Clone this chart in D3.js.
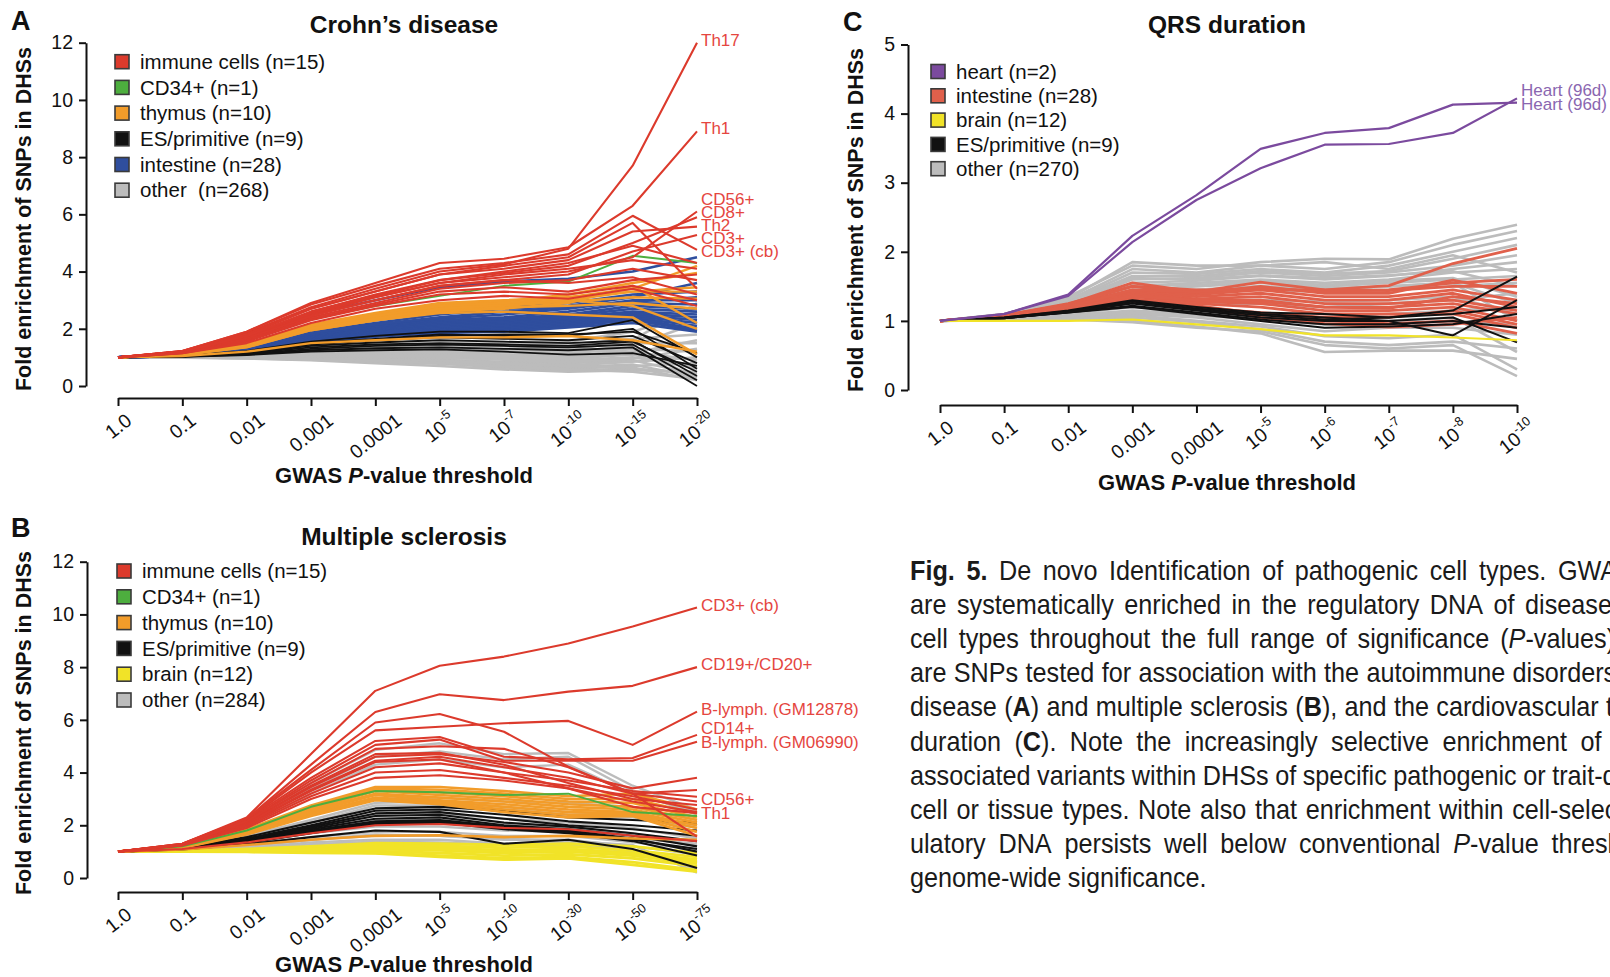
<!DOCTYPE html>
<html>
<head>
<meta charset="utf-8">
<script src="https://cdn.jsdelivr.net/npm/d3@7"></script>
<style>
  body { margin: 0; background: #fff; }
  svg { display: block; }
  text { font-family: "Liberation Sans", Arial, Helvetica, sans-serif; }
  .pre { white-space: pre; }
</style>
</head>
<body>
<svg id="fig" width="1610" height="977"></svg>
<script>
// ---------------- data ----------------
// GWAS P-value thresholds (x categories) per trait
const crohnThresholds = ["1.0", "0.1", "0.01", "0.001", "0.0001", "10^-5", "10^-7", "10^-10", "10^-15", "10^-20"];
const msThresholds    = ["1.0", "0.1", "0.01", "0.001", "0.0001", "10^-5", "10^-10", "10^-30", "10^-50", "10^-75"];
const qrsThresholds   = ["1.0", "0.1", "0.01", "0.001", "0.0001", "10^-5", "10^-6", "10^-7", "10^-8", "10^-10"];

// A: Crohn's disease — fold enrichment of SNPs in DHSs per cell type
const crohnLegend = ["immune cells (n=15)", "CD34+ (n=1)", "thymus (n=10)", "ES/primitive (n=9)", "intestine (n=28)", "other  (n=268)"];
const crohnImmuneLabels = ["Th17", "Th1", "CD56+", "CD8+", "Th2", "CD3+", "CD3+ (cb)"];
const crohnImmune = [
  [1, 1.22, 1.85, 2.75, 3.4, 4.0, 4.25, 4.8, 7.7, 12.0],
  [1, 1.22, 1.9, 2.9, 3.6, 4.3, 4.45, 4.85, 6.3, 8.9],
  [1, 1.2, 1.7, 2.5, 3.1, 3.6, 3.8, 4.0, 4.5, 6.1],
  [1, 1.2, 1.75, 2.6, 3.2, 3.7, 3.95, 4.2, 5.0, 5.9],
  [1, 1.2, 1.8, 2.7, 3.3, 3.9, 4.1, 4.4, 5.4, 5.57],
  [1, 1.18, 1.7, 2.5, 3.0, 3.5, 3.7, 3.9, 4.7, 5.28],
  [1, 1.22, 1.9, 2.85, 3.5, 4.1, 4.3, 4.6, 5.95, 4.76],
  [1, 1.2, 1.8, 2.7, 3.3, 3.9, 4.2, 4.5, 5.7, 3.4],
  [1, 1.18, 1.7, 2.55, 3.1, 3.6, 3.9, 4.1, 4.4, 4.1],
  [1, 1.16, 1.6, 2.4, 2.9, 3.4, 3.6, 3.7, 4.1, 3.7],
  [1, 1.18, 1.65, 2.45, 3.0, 3.5, 3.7, 3.6, 3.8, 3.2],
  [1, 1.16, 1.6, 2.35, 2.85, 3.3, 3.45, 3.3, 3.7, 3.9],
  [1, 1.15, 1.55, 2.3, 2.8, 3.2, 3.3, 3.2, 3.5, 3.0],
  [1, 1.2, 1.75, 2.6, 3.15, 3.7, 4.0, 4.3, 4.9, 4.3],
  [1, 1.15, 1.5, 2.2, 2.7, 3.0, 3.15, 3.05, 3.4, 2.8]
];
const crohnCD34 = [
  [1, 1.15, 1.6, 2.35, 2.8, 3.15, 3.5, 3.65, 4.55, 4.3]
];
const crohnThymus = [
  [1, 1.12, 1.45, 2.15, 2.55, 2.9, 3.0, 3.1, 3.4, 4.2],
  [1, 1.12, 1.45, 2.1, 2.5, 2.85, 2.95, 3.2, 3.6, 3.95],
  [1, 1.1, 1.4, 2.05, 2.45, 2.75, 2.9, 3.0, 3.3, 3.45],
  [1, 1.1, 1.4, 2.0, 2.4, 2.7, 2.8, 2.95, 3.1, 3.05],
  [1, 1.1, 1.38, 2.0, 2.35, 2.65, 2.75, 2.8, 2.9, 2.7],
  [1, 1.1, 1.36, 1.95, 2.3, 2.6, 2.7, 2.9, 3.5, 2.2],
  [1, 1.1, 1.35, 1.95, 2.3, 2.55, 2.6, 2.5, 2.4, 1.1],
  [1, 1.1, 1.38, 2.0, 2.35, 2.7, 2.85, 3.0, 2.8, 2.0],
  [1, 1.1, 1.42, 2.1, 2.45, 2.8, 2.9, 3.1, 3.3, 3.3],
  [1, 1.05, 1.2, 1.5, 1.6, 1.7, 1.7, 1.75, 1.6, 1.2]
];
const crohnES = [
  [1, 1.06, 1.22, 1.55, 1.75, 1.9, 1.9, 1.85, 2.3, 1.0],
  [1, 1.05, 1.2, 1.5, 1.65, 1.8, 1.75, 1.75, 2.0, 0.6],
  [1, 1.05, 1.18, 1.45, 1.6, 1.7, 1.65, 1.6, 1.75, 0.8],
  [1, 1.04, 1.15, 1.4, 1.52, 1.6, 1.55, 1.5, 1.6, 0.35],
  [1, 1.04, 1.14, 1.35, 1.45, 1.5, 1.45, 1.4, 1.55, 0.5],
  [1, 1.03, 1.12, 1.3, 1.4, 1.45, 1.4, 1.35, 1.45, 0.2],
  [1, 1.03, 1.1, 1.25, 1.32, 1.35, 1.3, 1.25, 1.35, 0.0],
  [1, 1.02, 1.08, 1.2, 1.25, 1.28, 1.2, 1.1, 1.15, 0.7],
  [1, 1.05, 1.2, 1.48, 1.62, 1.75, 1.8, 1.8, 1.9, 1.15]
];
const crohnIntestine = [
  [1, 1.15, 1.6, 2.5, 3.0, 3.45, 3.65, 3.75, 4.0, 4.5],
  [1, 1.1, 1.4, 1.95, 2.3, 2.6, 2.75, 2.9, 3.2, 3.3],
  [1, 1.08, 1.32, 1.8, 2.1, 2.35, 2.5, 2.7, 3.0, 3.0],
  [1, 1.08, 1.3, 1.78, 2.05, 2.3, 2.4, 2.6, 2.9, 2.85],
  [1, 1.07, 1.28, 1.72, 2.0, 2.25, 2.35, 2.5, 2.8, 2.7],
  [1, 1.07, 1.27, 1.7, 1.98, 2.2, 2.3, 2.45, 2.7, 2.6],
  [1, 1.07, 1.26, 1.68, 1.95, 2.15, 2.25, 2.4, 2.6, 2.5],
  [1, 1.06, 1.25, 1.65, 1.9, 2.1, 2.2, 2.35, 2.55, 2.4],
  [1, 1.06, 1.24, 1.62, 1.88, 2.05, 2.15, 2.3, 2.5, 2.3],
  [1, 1.06, 1.23, 1.6, 1.85, 2.0, 2.1, 2.25, 2.45, 2.2],
  [1, 1.05, 1.22, 1.58, 1.82, 1.95, 2.05, 2.2, 2.4, 2.1],
  [1, 1.05, 1.2, 1.55, 1.8, 1.9, 2.0, 2.15, 2.35, 2.0],
  [1, 1.05, 1.2, 1.52, 1.75, 1.88, 1.95, 2.1, 2.3, 1.95],
  [1, 1.05, 1.18, 1.5, 1.72, 1.85, 1.9, 2.05, 2.2, 1.9],
  [1, 1.1, 1.38, 1.9, 2.2, 2.5, 2.7, 2.8, 3.1, 3.6],
  [1, 1.09, 1.35, 1.85, 2.15, 2.4, 2.6, 2.75, 2.95, 3.1]
];
const crohnOther = [
  [1, 1.02, 1.05, 1.1, 1.12, 1.15, 1.1, 1.05, 1.2, 0.9],
  [1, 1.01, 1.03, 1.05, 1.05, 1.05, 1.0, 0.95, 1.1, 0.6],
  [1, 1.0, 1.0, 0.98, 0.95, 0.92, 0.85, 0.8, 0.9, 0.4],
  [1, 1.0, 0.98, 0.95, 0.9, 0.85, 0.75, 0.65, 0.75, 0.3],
  [1, 1.0, 0.97, 0.92, 0.85, 0.78, 0.65, 0.55, 0.6, 0.45],
  [1, 0.99, 0.96, 0.9, 0.8, 0.7, 0.58, 0.5, 0.55, 0.5],
  [1, 1.0, 1.0, 1.0, 1.0, 0.98, 0.95, 0.9, 1.0, 0.7],
  [1, 1.01, 1.04, 1.08, 1.1, 1.1, 1.05, 1.0, 1.3, 1.2],
  [1, 1.02, 1.06, 1.15, 1.2, 1.25, 1.3, 1.35, 1.5, 1.5],
  [1, 1.02, 1.08, 1.2, 1.28, 1.35, 1.4, 1.45, 1.65, 1.8],
  [1, 1.0, 0.99, 0.97, 0.93, 0.88, 0.8, 0.72, 0.85, 1.0],
  [1, 1.0, 0.98, 0.94, 0.88, 0.82, 0.72, 0.6, 0.7, 0.8],
  [1, 1.01, 1.02, 1.03, 1.02, 1.0, 0.92, 0.85, 0.95, 1.3],
  [1, 1.02, 1.07, 1.18, 1.25, 1.3, 1.25, 1.2, 1.4, 2.2],
  [1, 1.03, 1.1, 1.25, 1.35, 1.45, 1.5, 1.55, 1.9, 2.6],
  [1, 1.01, 1.03, 1.06, 1.06, 1.05, 1.0, 0.98, 1.15, 1.6],
  [1, 1.0, 0.99, 0.96, 0.92, 0.87, 0.78, 0.7, 0.65, 0.2],
  [1, 1.02, 1.05, 1.12, 1.15, 1.2, 1.18, 1.15, 1.3, 0.3],
  [1, 1.0, 0.98, 0.93, 0.87, 0.8, 0.68, 0.58, 0.5, 0.25],
  [1, 1.01, 1.04, 1.1, 1.15, 1.2, 1.22, 1.25, 1.6, 2.9]
];

// B: Multiple sclerosis
const msLegend = ["immune cells (n=15)", "CD34+ (n=1)", "thymus (n=10)", "ES/primitive (n=9)", "brain (n=12)", "other (n=284)"];
const msImmuneLabels = ["CD3+ (cb)", "CD19+/CD20+", "B-lymph. (GM12878)", "CD14+", "B-lymph. (GM06990)", "", "CD56+", "Th1"];
const msImmune = [
  [1, 1.3, 2.3, 4.7, 7.1, 8.05, 8.4, 8.9, 9.54, 10.26],
  [1, 1.3, 2.25, 4.3, 6.3, 6.97, 6.75, 7.07, 7.29, 8.0],
  [1, 1.28, 2.2, 4.0, 5.6, 5.74, 5.87, 5.96, 5.05, 6.31],
  [1, 1.28, 2.2, 3.8, 5.2, 5.35, 4.6, 4.5, 4.55, 5.43],
  [1, 1.27, 2.15, 3.7, 5.05, 5.25, 4.45, 4.45, 4.45, 5.17],
  [1, 1.3, 2.25, 4.1, 5.9, 6.22, 5.55, 4.22, 3.2, 1.57],
  [1, 1.26, 2.1, 3.5, 4.7, 4.75, 4.3, 3.6, 3.0, 2.77],
  [1, 1.25, 2.05, 3.3, 4.4, 4.5, 4.0, 3.4, 2.7, 2.46],
  [1, 1.26, 2.1, 3.45, 4.6, 4.7, 4.4, 4.0, 3.4, 3.8],
  [1, 1.25, 2.05, 3.35, 4.45, 4.6, 4.2, 3.8, 3.2, 3.34],
  [1, 1.24, 2.0, 3.2, 4.2, 4.35, 4.0, 3.7, 3.3, 3.08],
  [1, 1.24, 1.95, 3.1, 4.0, 4.1, 3.8, 3.5, 3.1, 2.6],
  [1, 1.23, 1.9, 3.0, 3.8, 3.9, 3.7, 3.4, 2.9, 2.5],
  [1, 1.27, 2.15, 3.6, 4.9, 5.0, 4.9, 4.2, 3.2, 2.9],
  [1, 1.1, 1.35, 1.7, 2.0, 2.05, 1.9, 1.85, 1.6, 1.4]
];
const msCD34 = [
  [1, 1.2, 1.8, 2.7, 3.3, 3.25, 3.15, 3.2, 2.5, 2.35]
];
const msThymus = [
  [1, 1.2, 1.85, 2.75, 3.45, 3.45, 3.3, 3.1, 3.2, 2.6],
  [1, 1.2, 1.82, 2.7, 3.4, 3.35, 3.2, 3.0, 3.0, 2.45],
  [1, 1.19, 1.8, 2.65, 3.35, 3.25, 3.1, 2.9, 2.85, 2.3],
  [1, 1.18, 1.78, 2.6, 3.3, 3.15, 3.0, 2.8, 2.7, 2.2],
  [1, 1.18, 1.75, 2.55, 3.2, 3.05, 2.9, 2.7, 2.6, 2.1],
  [1, 1.17, 1.72, 2.5, 3.15, 2.95, 2.8, 2.6, 2.5, 2.0],
  [1, 1.17, 1.7, 2.45, 3.05, 2.9, 2.7, 2.5, 2.45, 1.9],
  [1, 1.16, 1.68, 2.4, 3.0, 2.85, 2.6, 2.4, 2.4, 1.75],
  [1, 1.15, 1.65, 2.35, 2.95, 2.8, 2.5, 2.3, 2.35, 1.6],
  [1, 1.08, 1.25, 1.45, 1.6, 1.62, 1.55, 1.6, 1.5, 1.45]
];
const msES = [
  [1, 1.15, 1.55, 2.1, 2.64, 2.7, 2.55, 2.3, 2.2, 2.1],
  [1, 1.14, 1.5, 2.0, 2.55, 2.6, 2.4, 2.15, 2.0, 1.8],
  [1, 1.13, 1.45, 1.95, 2.45, 2.5, 2.25, 2.0, 1.85, 1.6],
  [1, 1.12, 1.42, 1.9, 2.35, 2.4, 2.1, 1.95, 1.7, 1.4],
  [1, 1.11, 1.4, 1.85, 2.25, 2.3, 2.0, 1.85, 1.6, 1.2],
  [1, 1.1, 1.37, 1.8, 2.15, 2.2, 1.95, 1.8, 1.5, 1.0],
  [1, 1.09, 1.33, 1.7, 2.05, 2.1, 1.85, 1.7, 1.4, 0.85],
  [1, 1.08, 1.28, 1.55, 1.8, 1.75, 1.3, 1.45, 1.1, 0.38],
  [1, 1.1, 1.35, 1.75, 2.1, 2.15, 1.9, 1.75, 1.45, 1.1]
];
const msBrain = [
  [1, 1.03, 1.1, 1.2, 1.32, 1.3, 1.25, 1.3, 1.2, 0.95],
  [1, 1.02, 1.07, 1.15, 1.25, 1.22, 1.15, 1.2, 1.05, 0.8],
  [1, 1.02, 1.05, 1.1, 1.18, 1.15, 1.05, 1.1, 0.95, 0.7],
  [1, 1.01, 1.03, 1.06, 1.1, 1.05, 0.95, 1.0, 0.85, 0.55],
  [1, 1.01, 1.02, 1.02, 1.02, 0.95, 0.85, 0.9, 0.75, 0.45],
  [1, 1.0, 1.0, 0.99, 0.96, 0.85, 0.75, 0.8, 0.6, 0.3],
  [1, 1.0, 0.99, 0.96, 0.94, 0.8, 0.7, 0.75, 0.5, 0.24],
  [1, 1.01, 1.04, 1.08, 1.14, 1.1, 1.0, 1.05, 0.9, 0.62]
];
const msOther = [
  [1, 1.26, 2.1, 3.6, 4.86, 5.11, 4.7, 4.74, 3.5, 2.58],
  [1, 1.24, 2.0, 3.4, 4.6, 4.8, 4.5, 4.6, 3.3, 2.4],
  [1, 1.15, 1.6, 2.2, 2.85, 2.9, 2.7, 2.5, 2.4, 2.0],
  [1, 1.14, 1.55, 2.1, 2.75, 2.75, 2.6, 2.4, 2.3, 1.9],
  [1, 1.1, 1.35, 1.7, 1.95, 1.95, 1.8, 1.75, 1.5, 1.3],
  [1, 1.08, 1.28, 1.55, 1.75, 1.75, 1.6, 1.6, 1.35, 1.1],
  [1, 1.07, 1.22, 1.45, 1.6, 1.6, 1.45, 1.45, 1.2, 0.9],
  [1, 1.05, 1.15, 1.35, 1.45, 1.45, 1.3, 1.35, 1.05, 0.6],
  [1, 1.04, 1.12, 1.28, 1.38, 1.35, 1.25, 1.25, 1.0, 0.35],
  [1, 1.12, 1.45, 1.95, 2.4, 2.45, 2.25, 2.1, 1.9, 1.5],
  [1, 1.16, 1.65, 2.4, 3.0, 3.05, 2.9, 2.85, 2.7, 2.2],
  [1, 1.1, 1.4, 1.85, 2.2, 2.2, 2.0, 1.9, 1.7, 1.2],
  [1, 1.06, 1.2, 1.45, 1.65, 1.6, 1.5, 1.4, 1.25, 0.2],
  [1, 1.22, 1.95, 3.2, 4.3, 4.5, 4.2, 4.3, 3.2, 2.5]
];

// C: QRS duration
const qrsLegend = ["heart (n=2)", "intestine (n=28)", "brain (n=12)", "ES/primitive (n=9)", "other (n=270)"];
const qrsHeartLabels = ["Heart (96d)", "Heart (96d)"];
const qrsHeart = [
  [1, 1.1, 1.38, 2.23, 2.82, 3.49, 3.72, 3.79, 4.13, 4.16],
  [1, 1.1, 1.36, 2.14, 2.75, 3.21, 3.55, 3.56, 3.72, 4.22]
];
const qrsIntestine = [
  [1, 1.08, 1.25, 1.5, 1.45, 1.45, 1.45, 1.51, 1.83, 2.05],
  [1, 1.08, 1.24, 1.55, 1.42, 1.56, 1.45, 1.44, 1.5, 1.5],
  [1, 1.08, 1.23, 1.5, 1.4, 1.5, 1.4, 1.4, 1.59, 1.4],
  [1, 1.07, 1.22, 1.45, 1.38, 1.45, 1.35, 1.35, 1.45, 1.3],
  [1, 1.07, 1.21, 1.42, 1.35, 1.4, 1.3, 1.3, 1.4, 1.2],
  [1, 1.07, 1.2, 1.4, 1.32, 1.35, 1.25, 1.25, 1.3, 1.15],
  [1, 1.06, 1.19, 1.38, 1.3, 1.3, 1.2, 1.2, 1.25, 1.1],
  [1, 1.06, 1.18, 1.35, 1.28, 1.25, 1.15, 1.15, 1.2, 1.0],
  [1, 1.06, 1.17, 1.32, 1.25, 1.2, 1.1, 1.1, 1.1, 0.9],
  [1, 1.05, 1.16, 1.3, 1.22, 1.1, 1.0, 0.96, 1.0, 0.82],
  [1, 1.05, 1.15, 1.28, 1.2, 1.05, 0.96, 0.91, 0.95, 1.05],
  [1, 1.07, 1.2, 1.45, 1.42, 1.48, 1.42, 1.45, 1.55, 1.6],
  [1, 1.06, 1.18, 1.36, 1.3, 1.28, 1.2, 1.18, 1.35, 1.25],
  [1, 1.05, 1.15, 1.27, 1.2, 1.12, 1.05, 1.05, 1.15, 0.95]
];
const qrsBrain = [
  [1, 1.0, 1.0, 1.02, 0.95, 0.88, 0.79, 0.79, 0.76, 0.72]
];
const qrsES = [
  [1, 1.05, 1.15, 1.3, 1.2, 1.12, 1.1, 1.05, 1.15, 1.64],
  [1, 1.05, 1.14, 1.28, 1.18, 1.1, 1.05, 1.0, 0.79, 1.3],
  [1, 1.04, 1.13, 1.25, 1.15, 1.05, 1.0, 1.0, 1.05, 0.69],
  [1, 1.04, 1.12, 1.22, 1.12, 1.02, 0.95, 0.95, 1.0, 0.9],
  [1, 1.04, 1.12, 1.2, 1.1, 1.0, 0.9, 0.92, 0.95, 1.1],
  [1, 1.04, 1.13, 1.26, 1.16, 1.08, 1.02, 1.05, 1.1, 1.2]
];
const qrsOther = [
  [1, 1.1, 1.35, 1.8, 1.75, 1.85, 1.9, 1.89, 2.19, 2.39],
  [1, 1.09, 1.3, 1.75, 1.7, 1.8, 1.75, 1.85, 2.1, 2.3],
  [1, 1.09, 1.28, 1.7, 1.68, 1.75, 1.7, 1.8, 2.0, 2.2],
  [1, 1.08, 1.27, 1.65, 1.65, 1.72, 1.68, 1.72, 1.9, 2.1],
  [1, 1.08, 1.25, 1.6, 1.62, 1.7, 1.65, 1.7, 1.8, 1.95],
  [1, 1.07, 1.22, 1.55, 1.58, 1.65, 1.6, 1.65, 1.75, 1.85],
  [1, 1.07, 1.2, 1.5, 1.55, 1.6, 1.55, 1.6, 1.7, 1.75],
  [1, 1.06, 1.18, 1.45, 1.5, 1.55, 1.5, 1.55, 1.6, 1.65],
  [1, 1.05, 1.15, 1.35, 1.4, 1.45, 1.42, 1.45, 1.5, 1.55],
  [1, 1.04, 1.1, 1.2, 1.15, 1.1, 1.05, 1.1, 1.15, 1.2],
  [1, 1.03, 1.06, 1.1, 1.05, 0.95, 0.85, 0.9, 0.9, 0.8],
  [1, 1.02, 1.04, 1.05, 0.98, 0.88, 0.7, 0.65, 0.7, 0.6],
  [1, 1.02, 1.03, 1.0, 0.92, 0.82, 0.55, 0.57, 0.57, 0.45],
  [1, 1.03, 1.05, 1.08, 1.0, 0.92, 0.78, 0.75, 0.8, 0.3],
  [1, 1.01, 1.02, 0.98, 0.9, 0.85, 0.65, 0.6, 0.65, 0.2],
  [1, 1.05, 1.12, 1.3, 1.25, 1.25, 1.2, 1.25, 1.3, 1.4],
  [1, 1.06, 1.16, 1.4, 1.45, 1.5, 1.45, 1.5, 1.55, 1.0],
  [1, 1.04, 1.08, 1.15, 1.1, 1.05, 1.0, 1.0, 1.05, 0.55],
  [1, 1.1, 1.32, 1.85, 1.8, 1.8, 1.85, 1.75, 1.95, 1.7],
  [1, 1.03, 1.07, 1.12, 1.08, 1.02, 0.95, 0.95, 1.0, 0.95],
  [1, 1.08, 1.26, 1.62, 1.6, 1.66, 1.62, 1.66, 1.72, 1.5],
  [1, 1.07, 1.21, 1.52, 1.52, 1.58, 1.52, 1.58, 1.62, 1.35],
  [1, 1.06, 1.17, 1.42, 1.45, 1.5, 1.47, 1.5, 1.55, 1.25],
  [1, 1.05, 1.13, 1.3, 1.3, 1.3, 1.28, 1.3, 1.35, 1.1]
];

// Figure legend text (* = bold, _ = italic)
const captionLines = [
  "*Fig. 5.* De novo Identification of pathogenic cell types. GWAS SNPs",
  "are systematically enriched in the regulatory DNA of disease-relevant",
  "cell types throughout the full range of significance (_P_-values). Shown",
  "are SNPs tested for association with the autoimmune disorders Crohn’s",
  "disease (*A*) and multiple sclerosis (*B*), and the cardiovascular trait QRS",
  "duration (*C*). Note the increasingly selective enrichment of disease-",
  "associated variants within DHSs of specific pathogenic or trait-determining",
  "cell or tissue types. Note also that enrichment within cell-selective reg-",
  "ulatory DNA persists well below conventional _P_-value thresholds for",
  "genome-wide significance."
];

// ---------------- styling ----------------
const COL = {
  immune: "#dc3a2c", cd34: "#4dae3e", thymus: "#f29c2a", es: "#111111",
  intestine: "#2f4e9e", other: "#bcbcbc", brain: "#f1e328", heart: "#7b4a9e",
  gut: "#e0604b", labelRed: "#e5463f", labelPurple: "#8a66b0"
};

const svg = d3.select("#fig");
svg.append("rect").attr("width", 1610).attr("height", 977).attr("fill", "#fff");

const ANG = 38;
const RAD = ANG * Math.PI / 180;

function drawPanel(p) {
  const g = svg.append("g");
  const x = d3.scalePoint().domain(d3.range(p.ticks.length)).range([p.x0, p.x1]);
  const y = d3.scaleLinear().domain([0, p.yMax]).range([p.yZero, p.yTop]);

  // panel letter and title
  g.append("text").attr("x", p.letterX).attr("y", p.letterY).attr("font-size", 27)
    .attr("font-weight", "bold").attr("fill", "#111").text(p.letter);
  g.append("text").attr("x", p.titleX).attr("y", p.titleY).attr("font-size", 24.5)
    .attr("font-weight", "bold").attr("text-anchor", "middle").attr("fill", "#111").text(p.title);

  // y axis
  const ya = g.append("g").attr("transform", `translate(${p.axisX},0)`)
    .call(d3.axisLeft(y).tickValues(p.yTicks).tickSize(7).tickSizeOuter(0).tickPadding(6).tickFormat(d3.format("d")));
  ya.attr("font-family", null).attr("font-size", 19.5).attr("color", "#111");
  ya.selectAll("path, line").attr("stroke-width", 2);

  // y title
  g.append("text").attr("transform", `translate(${p.yTitleX},${p.yTitleY}) rotate(-90)`)
    .attr("text-anchor", "middle").attr("dy", "0.35em").attr("font-size", 21.5)
    .attr("font-weight", "bold").attr("fill", "#111").text("Fold enrichment of SNPs in DHSs");

  // x axis
  const xa = g.append("g").attr("transform", `translate(0,${p.axisY})`)
    .call(d3.axisBottom(x).tickSize(8).tickSizeOuter(0).tickFormat(""));
  xa.attr("color", "#111");
  xa.selectAll("path, line").attr("stroke-width", 2);
  xa.selectAll(".tick text").remove();

  // rotated threshold labels, centred on their ticks
  const fs = 19.5;
  p.ticks.forEach((lab, i) => {
    const t = g.append("text").attr("text-anchor", "middle").attr("font-size", fs).attr("fill", "#111");
    const parts = lab.split("^");
    t.append("tspan").attr("dy", "0.36em").text(parts[0]);
    if (parts[1]) t.append("tspan").attr("font-size", fs * 0.66).attr("dy", -fs * 0.48).text(parts[1]);
    const w = t.node().getComputedTextLength();
    const h = fs * 0.72;
    const cy = p.axisY + 14 + (w / 2) * Math.sin(RAD) + (h / 2) * Math.cos(RAD);
    t.attr("transform", `translate(${x(i)},${cy}) rotate(${-ANG})`);
  });

  // x title
  const xt = g.append("text").attr("x", p.xTitleX).attr("y", p.xTitleY).attr("font-size", 22)
    .attr("font-weight", "bold").attr("text-anchor", "middle").attr("fill", "#111");
  xt.append("tspan").text("GWAS ");
  xt.append("tspan").attr("font-style", "italic").text("P");
  xt.append("tspan").text("-value threshold");

  // legend
  const lg = g.append("g");
  p.legend.forEach((lab, i) => {
    const cy = p.legY + i * p.legStep;
    lg.append("rect").attr("x", p.legX).attr("y", cy - 7).attr("width", 14).attr("height", 14)
      .attr("fill", p.legColors[i]).attr("stroke", "#3a3a3a").attr("stroke-width", 1.6);
    lg.append("text").attr("class", "pre").attr("x", p.legX + 25).attr("y", cy).attr("dy", "0.35em")
      .attr("font-size", 20.5).attr("fill", "#111").text(lab);
  });

  // lines
  const line = d3.line().x((d, i) => x(i)).y(d => y(d));
  p.groups.forEach(grp => {
    g.append("g").attr("fill", "none").attr("stroke", grp.color).attr("stroke-width", grp.width)
      .attr("stroke-linejoin", "round").attr("stroke-linecap", "butt")
      .selectAll("path").data(grp.lines).join("path").attr("d", d => line(d));
  });

  // end labels, spread so they do not collide
  const ends = p.labels.map(([lab, v]) => ({ lab, y: y(v[v.length - 1]) })).filter(d => d.lab);
  ends.sort((a, b) => a.y - b.y);
  ends.forEach(d => d.ly = d.y);
  for (let k = 0; k < 200; k++) {
    for (let j = 1; j < ends.length; j++) {
      const gap = ends[j].ly - ends[j - 1].ly;
      if (gap < p.labelGap) {
        const s = (p.labelGap - gap) / 2;
        ends[j].ly += s; ends[j - 1].ly -= s;
      }
    }
  }
  ends.forEach(d => {
    g.append("text").attr("x", p.x1 + 4).attr("y", d.ly - 3).attr("dy", "0.35em")
      .attr("font-size", 17).attr("fill", p.labelColor).text(d.lab);
  });
}

drawPanel({
  letter: "A", letterX: 11, letterY: 30, title: "Crohn’s disease", titleX: 404, titleY: 33,
  ticks: crohnThresholds, x0: 118, x1: 697, axisY: 398, axisX: 86,
  yMax: 12, yZero: 386, yTop: 42.7, yTicks: [0, 2, 4, 6, 8, 10, 12],
  yTitleX: 23, yTitleY: 219, xTitleX: 404, xTitleY: 483,
  legend: crohnLegend, legColors: [COL.immune, COL.cd34, COL.thymus, COL.es, COL.intestine, COL.other],
  legX: 115, legY: 61.7, legStep: 25.7,
  groups: [
    { lines: crohnOther, color: COL.other, width: 2.6 },
    { lines: crohnIntestine, color: COL.intestine, width: 2.6 },
    { lines: crohnES, color: COL.es, width: 1.8 },
    { lines: crohnThymus, color: COL.thymus, width: 2.4 },
    { lines: crohnCD34, color: COL.cd34, width: 2 },
    { lines: crohnImmune, color: COL.immune, width: 2.1 }
  ],
  labels: crohnImmune.map((v, i) => [crohnImmuneLabels[i] || "", v]),
  labelGap: 13, labelColor: COL.labelRed
});

drawPanel({
  letter: "B", letterX: 11, letterY: 537, title: "Multiple sclerosis", titleX: 404, titleY: 545,
  ticks: msThresholds, x0: 118, x1: 697, axisY: 892, axisX: 87,
  yMax: 12, yZero: 878, yTop: 561.7, yTicks: [0, 2, 4, 6, 8, 10, 12],
  yTitleX: 23, yTitleY: 723, xTitleX: 404, xTitleY: 972,
  legend: msLegend, legColors: [COL.immune, COL.cd34, COL.thymus, COL.es, COL.brain, COL.other],
  legX: 117, legY: 571, legStep: 25.8,
  groups: [
    { lines: msOther, color: COL.other, width: 2.4 },
    { lines: msBrain, color: COL.brain, width: 2.9 },
    { lines: msES, color: COL.es, width: 2.1 },
    { lines: msThymus, color: COL.thymus, width: 2.6 },
    { lines: msCD34, color: COL.cd34, width: 2 },
    { lines: msImmune, color: COL.immune, width: 2.1 }
  ],
  labels: msImmune.map((v, i) => [msImmuneLabels[i] || "", v]),
  labelGap: 14, labelColor: COL.labelRed
});

drawPanel({
  letter: "C", letterX: 843, letterY: 31, title: "QRS duration", titleX: 1227, titleY: 33,
  ticks: qrsThresholds, x0: 940, x1: 1517, axisY: 405, axisX: 908,
  yMax: 5, yZero: 390, yTop: 44.5, yTicks: [0, 1, 2, 3, 4, 5],
  yTitleX: 855, yTitleY: 220, xTitleX: 1227, xTitleY: 490,
  legend: qrsLegend, legColors: [COL.heart, COL.gut, COL.brain, COL.es, COL.other],
  legX: 931, legY: 71.5, legStep: 24.3,
  groups: [
    { lines: qrsOther, color: COL.other, width: 2.6 },
    { lines: qrsIntestine, color: COL.gut, width: 2.8 },
    { lines: qrsES, color: COL.es, width: 2 },
    { lines: qrsBrain, color: COL.brain, width: 2.2 },
    { lines: qrsHeart, color: COL.heart, width: 2.2 }
  ],
  labels: qrsHeart.map((v, i) => [qrsHeartLabels[i], v]),
  labelGap: 14, labelColor: COL.labelPurple
});

// ---------------- justified caption ----------------
function parseLine(s) {
  const words = []; let cur = []; let bold = false, ital = false, buf = "";
  const flush = () => { if (buf) { cur.push({ t: buf, b: bold, i: ital }); buf = ""; } };
  for (const ch of s) {
    if (ch === "*") { flush(); bold = !bold; }
    else if (ch === "_") { flush(); ital = !ital; }
    else if (ch === " ") { flush(); if (cur.length) { words.push(cur); cur = []; } }
    else buf += ch;
  }
  flush(); if (cur.length) words.push(cur);
  return words;
}

// condensed setting: each word is compressed horizontally with textLength
const cap = svg.append("g").attr("class", "caption");
const capX = 910, capY0 = 580, capStep = 34.1, capFs = 28, capW = 800, capSX = 0.9;
captionLines.forEach((ln, li) => {
  const words = parseLine(ln);
  const row = cap.append("g").attr("transform", `translate(${capX},${capY0 + li * capStep})`);
  const nodes = words.map(w => {
    const t = row.append("text").attr("font-size", capFs).attr("fill", "#1a1a1a");
    w.forEach(s => t.append("tspan").attr("font-weight", s.b ? "bold" : null)
      .attr("font-style", s.i ? "italic" : null).text(s.t));
    const wn = t.node().getComputedTextLength() * capSX;
    t.attr("textLength", wn).attr("lengthAdjust", "spacingAndGlyphs");
    return { t, w: wn };
  });
  const total = d3.sum(nodes, d => d.w);
  const natural = capFs * 0.26 * capSX;
  const last = li === captionLines.length - 1;
  let gap = nodes.length > 1 ? (capW - total) / (nodes.length - 1) : natural;
  if (last || gap < natural) gap = natural;
  let cx = 0;
  nodes.forEach(d => { d.t.attr("x", cx); cx += d.w + gap; });
});
</script>
</body>
</html>
